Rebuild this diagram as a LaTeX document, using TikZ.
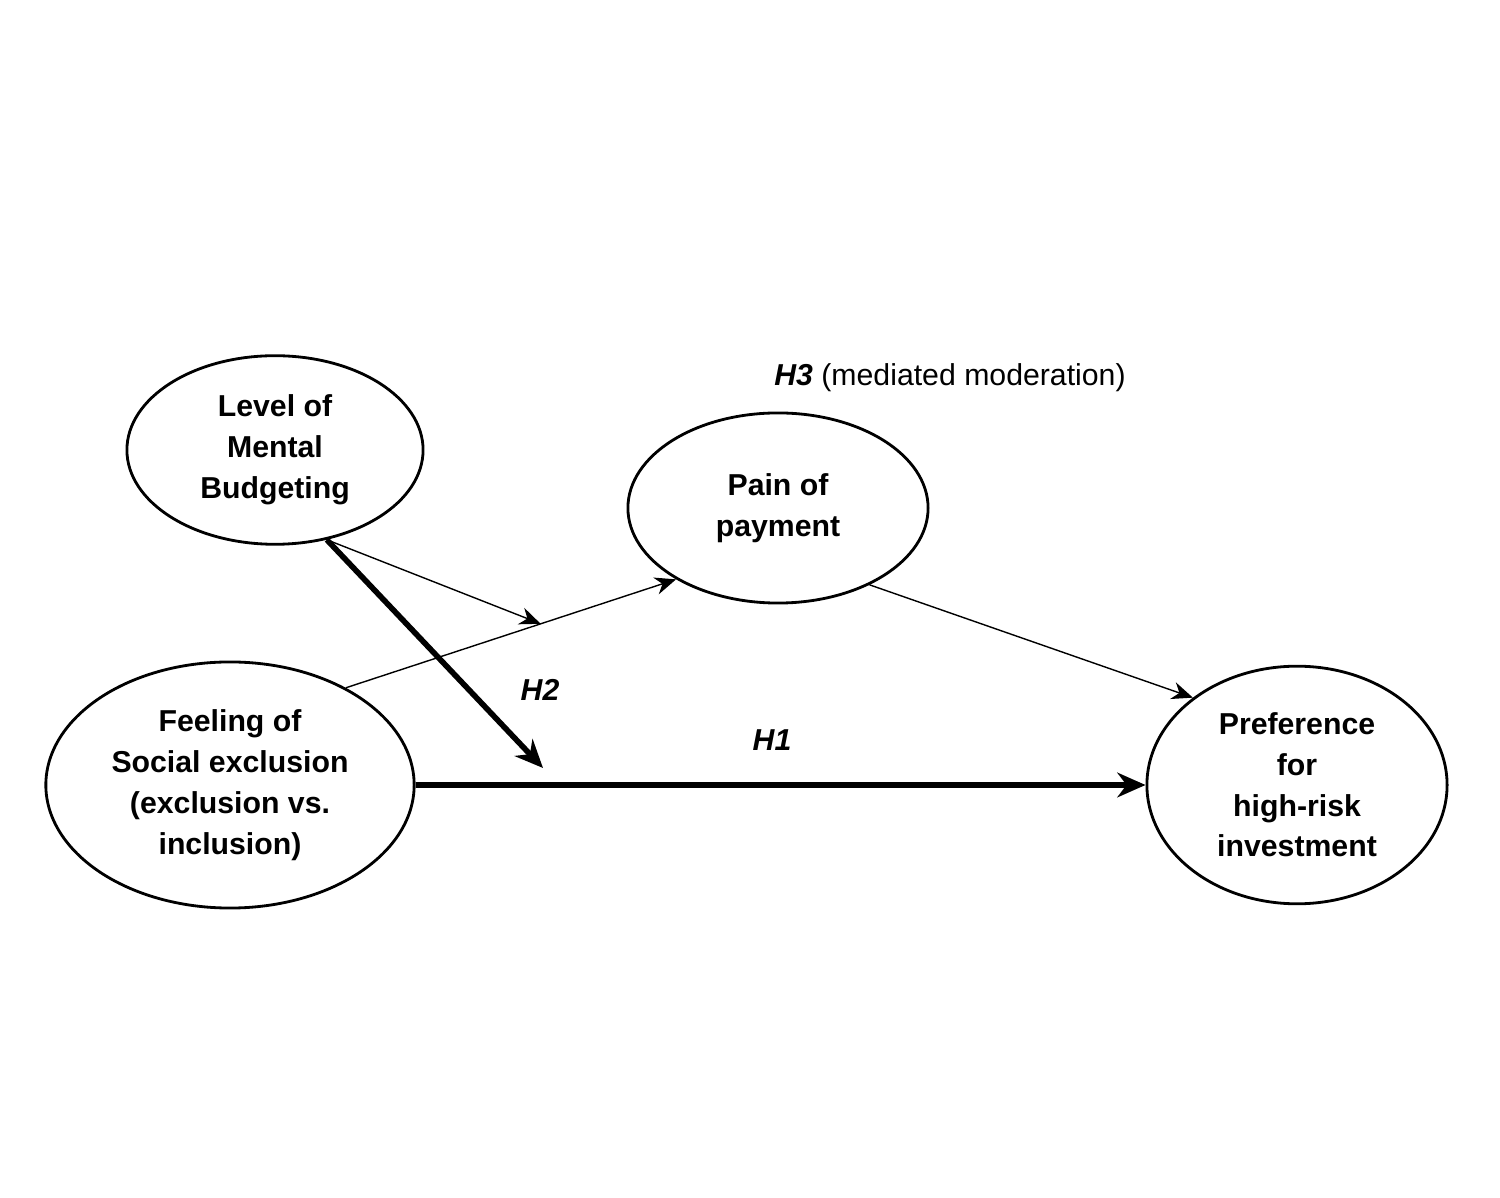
\documentclass[tikz,border=0pt]{standalone}
\usepackage{fontspec}
\setmainfont{Liberation Sans}
\usetikzlibrary{shapes.geometric,arrows.meta,positioning,calc}

\begin{document}
\begin{tikzpicture}[x=0.01cm,y=-0.01cm,
  construct/.style={draw,thick,ellipse,align=center,font=\fontsize{8.6}{11.6}\selectfont\bfseries},
  path/.style={-{Stealth[length=6pt,width=5pt]},thin},
  mainpath/.style={-{Stealth[length=8pt,width=7pt]},line width=1.6pt}]
  \useasboundingbox (0,0) rectangle (1500,1198);
  % Constructs
  \node[construct,minimum width=296\pgflinewidth,minimum width=2.96cm,minimum height=1.5cm] (budget) at (275,450) {Level of\\Mental\\Budgeting};
  \node[construct,minimum width=3.44cm,minimum height=2.1cm] (social) at (230,785) {Feeling of\\Social exclusion\\(exclusion vs.\\inclusion)};
  \node[construct,minimum width=3cm,minimum height=1.9cm] (pain) at (778,508) {Pain of\\payment};
  \node[construct,minimum width=3cm,minimum height=2cm] (pref) at (1297,785) {Preference\\for\\high-risk\\investment};

  % Paths
  \coordinate (h2end) at (543,768);
  \draw[path] (social.40) -- coordinate[pos=0.59] (mod) (pain.215);
  \draw[path] (pain.-40) -- (pref.140);
  \draw[path] (budget.-60) -- (mod);
  \draw[mainpath] (budget.-60) -- (h2end);
  \draw[mainpath] (social.east) -- (pref.west);

  % Labels
  \node[font=\fontsize{8.6}{11}\selectfont] (h3) at (950,378) {\textbf{\textit{H3}} (mediated moderation)};
  \node[font=\fontsize{8.6}{11}\selectfont\bfseries\itshape] (h2) at (540,690) {H2};
  \node[font=\fontsize{8.6}{11}\selectfont\bfseries\itshape] (h1) at (772,740) {H1};
\end{tikzpicture}
\end{document}
